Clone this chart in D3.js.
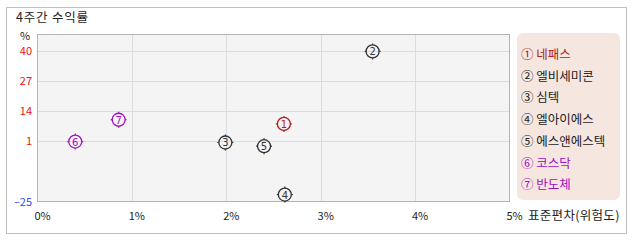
<!DOCTYPE html>
<html><head><meta charset="utf-8">
<script src="https://cdn.jsdelivr.net/npm/d3@7"></script>
<style>
html,body{margin:0;padding:0;background:#fff;}
svg{display:block;font-family:"Noto Sans CJK KR","Noto Sans",sans-serif;}
</style></head>
<body><svg id="c" width="638" height="242"></svg>
<script>
const title = "4주간 수익률";
const names = ["네패스","엘비세미콘","심텍","엘아이에스","에스앤에스텍","코스닥","반도체"];
const symbols = ["①","②","③","④","⑤","⑥","⑦"];
const stdDev = [2.61, 3.55, 1.99, 2.62, 2.40, 0.40, 0.86];   // x, %
const returns = [8.4, 39.6, 0.4, -22.0, -1.2, 0.8, 10.2];   // y, %
const colorKeys = ["red","dark","dark","dark","dark","purple","purple"];
const yTicks = [40, 27, 14, 1, -25];
const xTicks = [0, 1, 2, 3, 4, 5];
const xLabel = "표준편차(위험도)";

const palette = {red:"#b0201c", dark:"#333333", purple:"#a010c0"};
const svg = d3.select("#c");

// outer frame
svg.append("rect").attr("x",6.5).attr("y",7.5).attr("width",620).attr("height",226)
  .attr("fill","#fff").attr("stroke","#c0c0c0");
svg.append("text").attr("x",16).attr("y",22).attr("font-size",12.5).attr("letter-spacing",0.8)
  .attr("fill","#222").text(title);

const L=37.5, R=509.5, T=34.5, B=201.5;
const x = d3.scaleLinear().domain([0,5]).range([L,R]);
const y = d3.scaleLinear().domain([-25,40]).range([B,50.5]);

svg.append("rect").attr("x",L).attr("y",T).attr("width",R-L).attr("height",B-T).attr("fill","#f4f4f4");
const g = svg.append("g");
g.selectAll("line.h").data(yTicks.filter(d=>d>-25)).enter().append("line")
  .attr("x1",L).attr("x2",R).attr("y1",d=>Math.round(y(d))+0.5).attr("y2",d=>Math.round(y(d))+0.5)
  .attr("stroke","#dcdcdc");
g.selectAll("line.v").data(xTicks.filter(d=>d>0&&d<5)).enter().append("line")
  .attr("y1",T).attr("y2",B).attr("x1",d=>Math.round(x(d))+0.5).attr("x2",d=>Math.round(x(d))+0.5)
  .attr("stroke","#dcdcdc");
svg.append("rect").attr("x",L).attr("y",T).attr("width",R-L).attr("height",B-T).attr("fill","none").attr("stroke","#b4b4b4");

// y axis labels
svg.append("text").attr("x",25).attr("y",40).attr("text-anchor","middle").attr("font-size",11).attr("fill","#222").text("%");
svg.selectAll("text.yt").data(yTicks).enter().append("text")
  .attr("x",32).attr("y",d=>y(d)+4).attr("text-anchor","end").attr("font-size",11)
  .attr("fill",d=>d<0?"#3344ff":"#ee1111").text(d=>d<0?"–"+Math.abs(d):d);
// x axis labels
svg.selectAll("text.xt").data(xTicks).enter().append("text")
  .attr("x",d=>x(d)+5).attr("y",220).attr("text-anchor","middle").attr("font-size",11)
  .attr("fill","#222").text(d=>d+"%");
svg.append("text").attr("x",528).attr("y",220).attr("font-size",12.5).attr("letter-spacing",0.3)
  .attr("fill","#222").text(xLabel);

// markers
const pts = svg.selectAll("g.pt").data(names.map((n,i)=>({i,n,xv:stdDev[i],yv:returns[i],c:palette[colorKeys[i]]})))
  .enter().append("g").attr("transform",d=>`translate(${x(d.xv)},${y(d.yv)})`);
const r=6.5;
pts.append("circle").attr("r",r).attr("fill","none").attr("stroke",d=>d.c).attr("stroke-width",1.3);
[[0,-1],[0,1],[-1,0],[1,0]].forEach(([dx,dy])=>{
  pts.append("line").attr("x1",dx*r).attr("y1",dy*r).attr("x2",dx*(r+1.5)).attr("y2",dy*(r+1.5))
    .attr("stroke",d=>d.c).attr("stroke-width",1.2);
});
pts.append("text").attr("text-anchor","middle").attr("y",4).attr("font-size",10)
  .attr("font-family","DejaVu Sans").attr("fill",d=>d.c).text(d=>d.i+1);

// legend
svg.append("rect").attr("x",517).attr("y",33).attr("width",103).attr("height",167).attr("rx",6)
  .attr("fill","#f5e7e0");
svg.selectAll("text.lg").data(names).enter().append("text")
  .attr("x",521).attr("y",(d,i)=>59+i*21.7).attr("font-size",12.5)
  .attr("fill",(d,i)=>palette[colorKeys[i]]==="#333333"?"#222":palette[colorKeys[i]])
  .text((d,i)=>symbols[i]+" "+d);
</script></body></html>
